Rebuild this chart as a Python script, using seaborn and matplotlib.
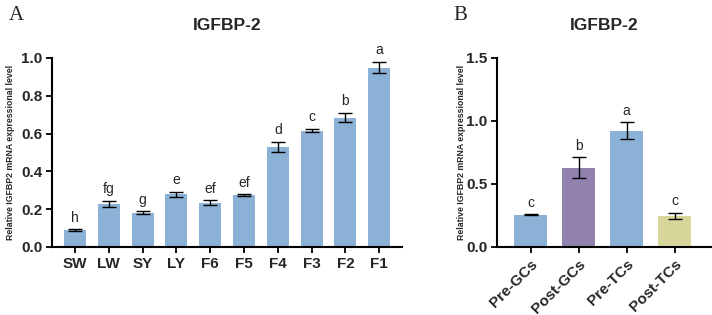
"""IGFBP-2 relative mRNA expression: follicle stages (A) and cell types (B)."""
import matplotlib; matplotlib.use("Agg")
import numpy as np
import pandas as pd
import matplotlib.pyplot as plt
import seaborn as sns

# panel A data
stages = ["SW", "LW", "SY", "LY", "F6", "F5", "F4", "F3", "F2", "F1"]
stage_mean = [0.090, 0.228, 0.180, 0.278, 0.233, 0.275, 0.529, 0.616, 0.684, 0.948]
stage_sd = [0.003, 0.015, 0.008, 0.012, 0.013, 0.004, 0.026, 0.008, 0.024, 0.030]
stage_sig = ["h", "fg", "g", "e", "ef", "ef", "d", "c", "b", "a"]

# panel B data
cells = ["Pre-GCs", "Post-GCs", "Pre-TCs", "Post-TCs"]
cell_mean = [0.254, 0.628, 0.922, 0.246]
cell_sd = [0.004, 0.083, 0.067, 0.024]
cell_sig = ["c", "b", "a", "c"]

blue = "#8BB1D6"
cell_colors = [blue, "#9181AE", blue, "#D6D69B"]

sns.set_style("ticks")
plt.rcParams["font.family"] = ["Liberation Sans", "DejaVu Sans"]

fig = plt.figure(figsize=(7.12, 3.15), dpi=100)
axA = fig.add_axes([0.073, 0.216, 0.492, 0.600])
axB = fig.add_axes([0.698, 0.216, 0.300, 0.600])


def panel(ax, cats, means, sds, sig, colors, ylim, yticks, width, rot):
    df = pd.DataFrame({"cat": cats, "val": means})
    sns.barplot(data=df, x="cat", y="val", hue="cat", palette=colors, legend=False,
                width=width, ax=ax, saturation=1, edgecolor="none")
    x = np.arange(len(cats))
    ax.errorbar(x, means, yerr=sds, fmt="none", ecolor="black", elinewidth=1.0,
                capsize=5, capthick=1.0)
    pad = ylim[1] * 0.025
    for xi, m, s, t in zip(x, means, sds, sig):
        ax.text(xi, m + s + pad, t, ha="center", va="bottom", fontsize=10)
    ax.set_ylim(*ylim)
    ax.set_yticks(yticks)
    ax.set_yticklabels([f"{v:.1f}" for v in yticks], fontweight="bold", fontsize=11)
    ax.set_xlabel("")
    ax.set_ylabel("Relative IGFBP2 mRNA expressional level", fontsize=6.3,
                  fontweight="bold")
    ax.set_title("IGFBP-2", fontsize=12.5, fontweight="bold", pad=20)
    ax.set_xticks(x)
    if rot:
        ax.set_xticklabels(cats, rotation=45, ha="right", rotation_mode="anchor",
                           fontweight="bold", fontsize=11)
    else:
        ax.set_xticklabels(cats, fontweight="bold", fontsize=11)
    sns.despine(ax=ax)
    for sp in ("left", "bottom"):
        ax.spines[sp].set_linewidth(1.5)
        ax.spines[sp].set_color("black")
    ax.tick_params(width=1.3, length=4, color="black", pad=3)


panel(axA, stages, stage_mean, stage_sd, stage_sig, [blue] * len(stages),
      (0, 1.0), [0.0, 0.2, 0.4, 0.6, 0.8, 1.0], 0.65, False)
axA.set_xlim(-0.68, 9.68)
axA.yaxis.set_label_coords(-0.105, 0.5)

panel(axB, cells, cell_mean, cell_sd, cell_sig, cell_colors,
      (0, 1.5), [0.0, 0.5, 1.0, 1.5], 0.68, True)
axB.set_xlim(-0.7, 3.75)
axB.yaxis.set_label_coords(-0.145, 0.5)

fig.text(0.012, 0.95, "A", fontsize=15, family="Liberation Serif", va="center")
fig.text(0.637, 0.95, "B", fontsize=15, family="Liberation Serif", va="center")

fig.savefig("out.png", dpi=100)
